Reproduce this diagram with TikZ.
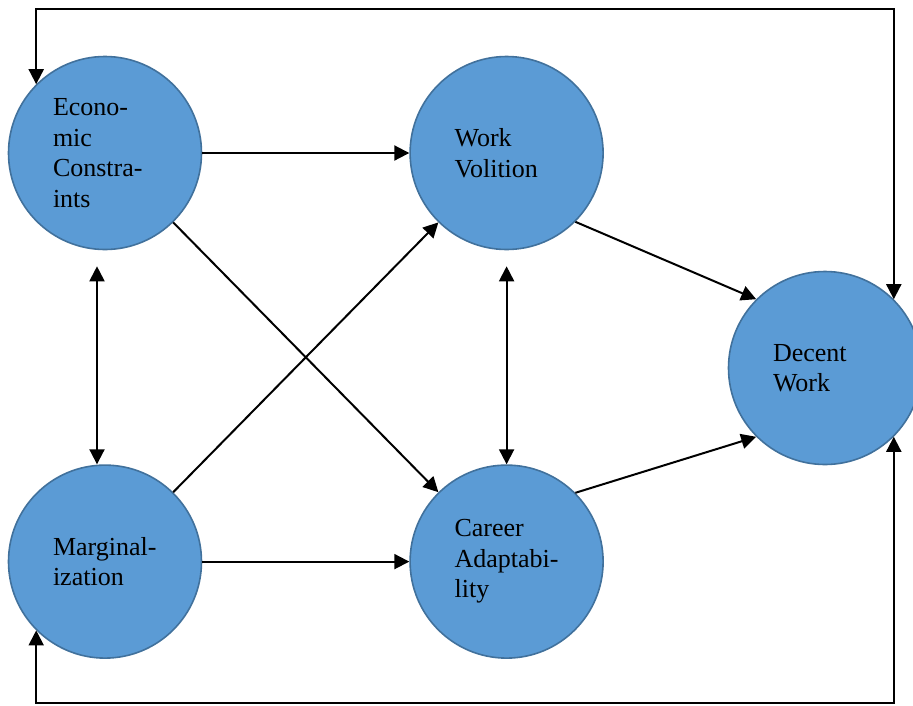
\documentclass[tikz,border=0pt]{standalone}
\usepackage{fontspec}
\setmainfont{Liberation Serif}
\usetikzlibrary{positioning, arrows.meta}
\definecolor{bubblefill}{HTML}{5B9BD5}
\definecolor{bubbleline}{HTML}{41719C}

\begin{document}
\begin{tikzpicture}[
    x=1pt, y=-1pt,
    node distance = 214pt and 207pt,
    factor/.style = {draw=bubbleline, fill=bubblefill, line width=1.6pt, shape=circle,
        minimum size=193pt, inner sep=0pt, text width=104pt, align=left,
        font=\fontsize{26}{30.5}\selectfont},
    line/.style = {draw, line width=2pt, -{Triangle[length=15pt, width=15pt]}},
    biline/.style = {draw, line width=2pt,
        {Triangle[length=15pt, width=15pt]}-{Triangle[length=15pt, width=15pt]}},
    ]
    \useasboundingbox (0,0) rectangle (913,705);
    \node[factor] (EC) at (105,153) {Econo-\\mic\\Constra-\\ints};
    \node[factor, right=of EC] (WV) {Work\\Volition};
    \node[factor, below=of EC] (MA) {Marginal-\\ization};
    \node[factor, right=of MA] (CA) {Career\\Adaptabi-\\lity};
    \node[factor] (DW) at (825,368) {Decent\\Work};

    \coordinate (topY) at (0,9);
    \coordinate (botY) at (0,703);

    \draw[line] (EC) -- (WV);
    \draw[line] (EC) -- (CA);
    \draw[line] (MA) -- (WV);
    \draw[line] (MA) -- (CA);
    \draw[line] (WV.south east) -- (DW.north west);
    \draw[line] (CA.north east) -- (DW.south west);

    \draw[biline, shorten <=16pt] ([xshift=-8pt]EC.south) -- ([xshift=-8pt]MA.north);
    \draw[biline, shorten <=16pt] (WV) -- (CA);

    % loops round the outside
    \draw[biline] (EC.north west) -- (EC.north west |- topY) -| (DW.north east);
    \draw[biline] (MA.south west) -- (MA.south west |- botY) -| (DW.south east);
\end{tikzpicture}
\end{document}
